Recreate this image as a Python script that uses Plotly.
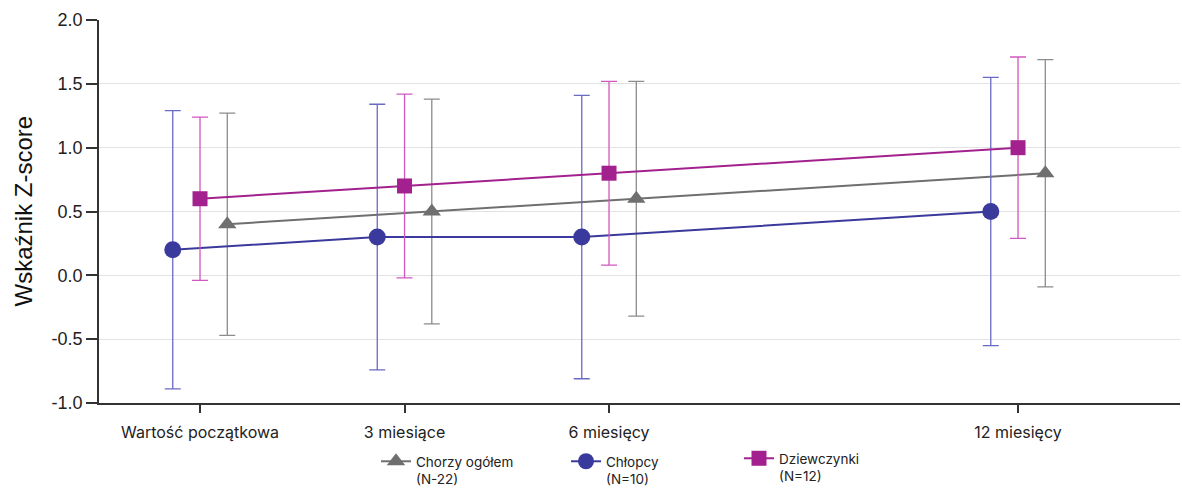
import plotly.graph_objects as go

# Measurement points (months from baseline) and their axis labels
months = [0, 3, 6, 12]
month_labels = ["Wartość początkowa", "3 miesiące", "6 miesięcy", "12 miesięcy"]

# Mean Z-score per group
total_mean = [0.4, 0.5, 0.6, 0.8]
boys_mean = [0.2, 0.3, 0.3, 0.5]
girls_mean = [0.6, 0.7, 0.8, 1.0]

# Upper / lower spread of the whiskers
total_up = [0.87, 0.88, 0.92, 0.89]
total_down = [0.87, 0.88, 0.92, 0.89]
boys_up = [1.09, 1.04, 1.11, 1.05]
boys_down = [1.09, 1.04, 1.11, 1.05]
girls_up = [0.64, 0.72, 0.72, 0.71]
girls_down = [0.64, 0.72, 0.72, 0.71]

y_title = "Wskaźnik Z-score"

series = [
    dict(name="Chorzy ogółem<br>(N-22)", mean=total_mean, up=total_up, down=total_down,
         shift=0.4, color="#6f6f6f", err="#8c8c8c", symbol="triangle-up", size=16,
         legend="legend", lx=376, ly=446),
    dict(name="Chłopcy<br>(N=10)", mean=boys_mean, up=boys_up, down=boys_down,
         shift=-0.4, color="#3a3a9c", err="#6a6ac4", symbol="circle", size=17,
         legend="legend2", lx=566, ly=446),
    dict(name="Dziewczynki<br>(N=12)", mean=girls_mean, up=girls_up, down=girls_down,
         shift=0.0, color="#a3208f", err="#d157c0", symbol="square", size=15,
         legend="legend3", lx=739, ly=443),
]

W, H = 1182, 488
M_L, M_R, M_T, M_B = 99, 2, 20, 85

fig = go.Figure()
legend_layout = {}
for s in series:
    fig.add_trace(go.Scatter(
        x=[m + s["shift"] for m in months],
        y=s["mean"],
        name=s["name"],
        legend=s["legend"],
        mode="lines+markers",
        line=dict(color=s["color"], width=2),
        marker=dict(symbol=s["symbol"], size=s["size"], color=s["color"]),
        error_y=dict(type="data", symmetric=False, array=s["up"], arrayminus=s["down"],
                     color=s["err"], thickness=1.3, width=8),
    ))
    legend_layout[s["legend"]] = dict(
        xref="container", yref="container",
        x=s["lx"] / W, xanchor="left",
        y=(H - s["ly"]) / H, yanchor="top",
        font=dict(family="Inter, sans-serif", size=13.5, color="#222"),
        valign="top", bgcolor="rgba(0,0,0,0)",
    )

# vertical axis title, set beside the tick labels
fig.add_annotation(
    text=y_title, textangle=-90, showarrow=False,
    xref="paper", yref="paper",
    x=(23 - M_L) / (W - M_L - M_R), y=0.5, xanchor="center", yanchor="middle",
    font=dict(family="Liberation Sans, Arial, sans-serif", size=24, color="#111"),
)

fig.update_layout(
    width=W, height=H,
    margin=dict(l=M_L, r=M_R, t=M_T, b=M_B, autoexpand=False),
    paper_bgcolor="white", plot_bgcolor="white",
    font=dict(family="Liberation Sans, Arial, sans-serif", color="#222"),
    showlegend=True,
    xaxis=dict(
        range=[-1.482, 14.376], automargin=False,
        tickmode="array", tickvals=months, ticktext=month_labels,
        ticks="outside", ticklen=8, tickwidth=1.5, tickcolor="#333",
        tickfont=dict(family="Inter, sans-serif", size=16, color="#222"),
        showline=True, linecolor="#333", linewidth=1.5,
        showgrid=False, zeroline=False,
        ticklabelstandoff=6,
    ),
    yaxis=dict(
        range=[-1.0, 2.0], automargin=False,
        tickmode="array", tickvals=[-1.0, -0.5, 0.0, 0.5, 1.0, 1.5, 2.0],
        ticktext=["-1.0", "-0.5", "0.0", "0.5", "1.0", "1.5", "2.0"],
        ticks="outside", ticklen=11, tickwidth=1.5, tickcolor="#333",
        tickfont=dict(size=18, color="#222"),
        showline=True, linecolor="#333", linewidth=1.5,
        showgrid=True, gridcolor="#e2e2e2", gridwidth=1,
        zeroline=False,
    ),
    **legend_layout,
)

fig.write_html("out.html")
